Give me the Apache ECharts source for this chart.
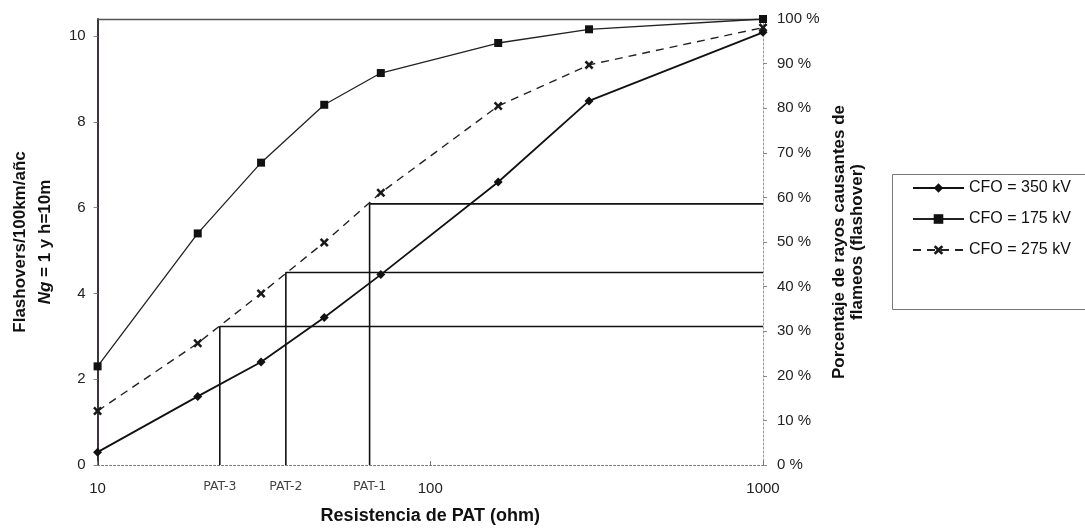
<!DOCTYPE html>
<html>
<head>
<meta charset="utf-8">
<script src="https://cdn.jsdelivr.net/npm/echarts@6/dist/echarts.min.js"></script>
<style>
  html, body { margin: 0; padding: 0; background: #ffffff; }
  #chart { width: 1085px; height: 530px; }
</style>
</head>
<body>
<div id="chart"></div>
<script>
// ---- data ----
const resistances = [10, 20, 31, 48, 71, 160, 300, 1000];
const cfo350 = [0.30, 1.60, 2.40, 3.44, 4.44, 6.60, 8.49, 10.09];
const cfo175 = [2.30, 5.40, 7.05, 8.40, 9.14, 9.84, 10.16, 10.40];
const cfo275 = [1.26, 2.84, 4.00, 5.19, 6.35, 8.37, 9.33, 10.20];
const seriesNames = ['CFO = 350 kV', 'CFO = 175 kV', 'CFO = 275 kV'];

const patNames = ['PAT-3', 'PAT-2', 'PAT-1'];
const patResistance = [23.3, 36.8, 65.7];
const patLevel = [3.23, 4.49, 6.09];

const xAxisMin = 10, xAxisMax = 1000;
const leftMin = 0, leftMax = 10.4, leftStep = 2;
const rightMin = 0, rightMax = 100, rightStep = 10;

const xAxisTitle = 'Resistencia de PAT (ohm)';
const leftTitle = 'Flashovers/100km/añc\n{i|Ng} = 1 y h=10m';
const rightTitle = 'Porcentaje de rayos causantes de\nflameos (flashover)';

// ---- chart ----
const FONT = '"Liberation Sans", Arial, sans-serif';
const xMark = 'path://M0,2L2,0L5,3L8,0L10,2L7,5L10,8L8,10L5,7L2,10L0,8L3,5Z';

const pairs = (ys) => resistances.map((x, i) => [x, ys[i]]);

const patSeries = patNames.map((n, i) => ({
  name: n,
  type: 'line',
  xAxisIndex: 0,
  yAxisIndex: 0,
  data: [[patResistance[i], leftMin], [patResistance[i], patLevel[i]], [xAxisMax, patLevel[i]]],
  symbol: 'none',
  lineStyle: { color: '#111', width: 1.6 },
  silent: true,
  z: 1
}));

const patLabelSeries = {
  name: 'patLabels',
  type: 'scatter',
  data: patNames.map((n, i) => ({ value: [patResistance[i], leftMin], name: n })),
  symbolSize: 2,
  itemStyle: { color: 'rgba(0,0,0,0)' },
  label: {
    show: true,
    position: 'bottom',
    distance: 14,
    formatter: (p) => p.name,
    fontFamily: '"DejaVu Sans", sans-serif',
    fontSize: 12.5,
    color: '#111'
  },
  silent: true,
  clip: false,
  z: 5
};

const option = {
  animation: false,
  backgroundColor: '#ffffff',
  textStyle: { fontFamily: FONT },
  grid: { left: 95, right: 322, top: 19, bottom: 64, containLabel: false },
  legend: {
    data: seriesNames,
    orient: 'vertical',
    left: 912,
    top: 180,
    itemWidth: 51,
    itemHeight: 12,
    itemGap: 15,
    padding: 0,
    textStyle: { fontFamily: FONT, fontSize: 16, color: '#111' }
  },
  graphic: [{
    type: 'rect',
    left: 890,
    top: 172,
    shape: { width: 240, height: 135 },
    style: { fill: 'none', stroke: '#777', lineWidth: 1 },
    silent: true
  }],
  xAxis: [{
    type: 'log',
    logBase: 10,
    min: xAxisMin,
    max: xAxisMax,
    name: xAxisTitle,
    nameLocation: 'middle',
    nameGap: 42,
    nameTextStyle: { fontFamily: FONT, fontSize: 18, fontWeight: 'bold', color: '#111' },
    axisLine: { show: true, onZero: false, lineStyle: { color: '#777', width: 1, type: [2, 2] } },
    axisTick: { show: true, inside: true, length: 4, lineStyle: { color: '#777' } },
    axisLabel: { margin: 16, fontFamily: FONT, fontSize: 15, color: '#222', formatter: (v) => String(v) },
    splitLine: { show: false }
  }, {
    type: 'log',
    logBase: 10,
    min: xAxisMin,
    max: xAxisMax,
    position: 'top',
    axisLine: { show: true, onZero: false, lineStyle: { color: '#555', width: 1.3 } },
    axisTick: { show: false },
    axisLabel: { show: false },
    splitLine: { show: false }
  }],
  yAxis: [{
    type: 'value',
    position: 'left',
    min: leftMin,
    max: leftMax,
    interval: leftStep,
    name: leftTitle,
    nameLocation: 'middle',
    nameRotate: 90,
    nameGap: 37,
    nameTextStyle: {
      fontFamily: FONT, fontSize: 17, fontWeight: 'bold', color: '#111', lineHeight: 25,
      rich: { i: { fontFamily: FONT, fontSize: 17, fontWeight: 'bold', fontStyle: 'italic', color: '#111', lineHeight: 25 } }
    },
    axisLine: { show: true, onZero: false, lineStyle: { color: '#2a1f2a', width: 1.8 } },
    axisTick: { show: true, length: 4, lineStyle: { color: '#888' } },
    axisLabel: { margin: 12, fontFamily: FONT, fontSize: 15, color: '#222', showMaxLabel: false },
    splitLine: { show: false }
  }, {
    type: 'value',
    position: 'right',
    min: rightMin,
    max: rightMax,
    interval: rightStep,
    name: rightTitle,
    nameLocation: 'middle',
    nameRotate: 90,
    nameGap: 67,
    nameTextStyle: { fontFamily: FONT, fontSize: 17, fontWeight: 'bold', color: '#111', lineHeight: 18 },
    axisLine: { show: true, onZero: false, lineStyle: { color: '#999', width: 1, type: [2, 2] } },
    axisTick: { show: true, length: 4, lineStyle: { color: '#888' } },
    axisLabel: { margin: 14, fontFamily: FONT, fontSize: 15, color: '#222', formatter: '{value} %' },
    splitLine: { show: false }
  }],
  series: [
    {
      name: seriesNames[0],
      type: 'line',
      data: pairs(cfo350),
      symbol: 'diamond',
      symbolSize: 9,
      itemStyle: { color: '#111' },
      lineStyle: { color: '#111', width: 1.8 },
      z: 3
    },
    {
      name: seriesNames[1],
      type: 'line',
      data: pairs(cfo175),
      symbol: 'rect',
      symbolSize: 8,
      itemStyle: { color: '#111' },
      lineStyle: { color: '#222', width: 1.3 },
      z: 3
    },
    {
      name: seriesNames[2],
      type: 'line',
      data: pairs(cfo275),
      symbol: xMark,
      symbolSize: 9,
      itemStyle: { color: '#1a1a1a' },
      lineStyle: { color: '#222', width: 1.4, type: [8, 6] },
      z: 3
    },
    ...patSeries,
    patLabelSeries
  ]
};

const chart = echarts.init(document.getElementById('chart'), null, { renderer: 'canvas' });
chart.setOption(option);
</script>
</body>
</html>
